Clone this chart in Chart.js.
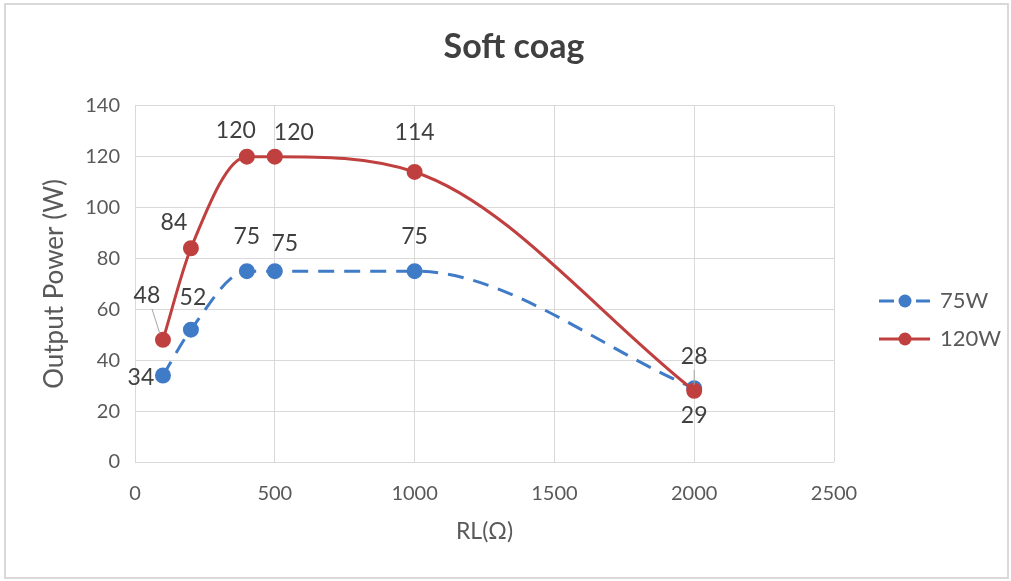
<!DOCTYPE html>
<html>
<head>
<meta charset="utf-8">
<script src="https://cdn.jsdelivr.net/npm/chart.js@4/dist/chart.umd.min.js"></script>
<style>
  html, body { margin: 0; padding: 0; background: #ffffff; }
  #wrap { width: 1011px; height: 581px; position: relative; }
</style>
</head>
<body>
<div id="wrap"><canvas id="chart" width="1011" height="581"></canvas></div>
<script>
// Load resistance (ohms) and measured output power (W)
const resistance = [100, 200, 400, 500, 1000, 2000];
const power75 = [34, 52, 75, 75, 75, 29];
const power120 = [48, 84, 120, 120, 114, 28];
const seriesNames = ['75W', '120W'];
const xTicks = [0, 500, 1000, 1500, 2000, 2500];
const yTicks = [0, 20, 40, 60, 80, 100, 120, 140];

const BLUE = '#3f7bc6';
const RED = '#c0403f';
const TEXT = '#595959';
const FONT = 'Lato, "Open Sans", sans-serif';

// Where each value label sits relative to its point (dx, dy, leader line)
const labelPlacement = [
  [[-22, 2], [2, -32], [0, -35], [10, -28], [0, -35], [0, 27]],
  [[-16, -44, true], [-17, -26], [-11, -26], [19, -24], [0, -39], [0, -34, true]]
];

const toPoints = (ys) => resistance.map((x, i) => ({ x: x, y: ys[i] }));

const valueLabels = {
  id: 'valueLabels',
  afterDatasetsDraw(chart) {
    const ctx = chart.ctx;
    ctx.save();
    ctx.font = '23px ' + FONT;
    ctx.fillStyle = '#404040';
    ctx.textAlign = 'center';
    ctx.textBaseline = 'middle';
    chart.data.datasets.forEach((ds, di) => {
      const meta = chart.getDatasetMeta(di);
      meta.data.forEach((pt, i) => {
        const place = labelPlacement[di][i];
        const lx = pt.x + place[0];
        const ly = pt.y + place[1];
        if (place[2]) {
          ctx.strokeStyle = '#a6a6a6';
          ctx.lineWidth = 1;
          ctx.beginPath();
          const sx = place[0] < 0 ? lx + 5 : lx;
          ctx.moveTo(sx, ly + 13);
          ctx.lineTo(pt.x - (place[0] < 0 ? 3 : 0), pt.y - 6);
          ctx.stroke();
        }
        ctx.fillText(String(ds.data[i].y), lx, ly);
      });
    });
    ctx.restore();
  }
};

const frameAndLegend = {
  id: 'frameAndLegend',
  beforeDraw(chart) {
    const ctx = chart.ctx;
    ctx.save();
    ctx.fillStyle = '#ffffff';
    ctx.fillRect(0, 0, chart.width, chart.height);
    ctx.strokeStyle = '#d9d9d9';
    ctx.lineWidth = 2;
    ctx.strokeRect(5, 4, chart.width - 8, chart.height - 7);
    ctx.restore();
  },
  afterDraw(chart) {
    const ctx = chart.ctx;
    ctx.save();
    const rows = [301, 339];
    chart.data.datasets.forEach((ds, di) => {
      const y = rows[di];
      ctx.strokeStyle = ds.borderColor;
      ctx.lineWidth = 3;
      ctx.setLineDash([]);
      ctx.beginPath();
      if (ds.borderDash && ds.borderDash.length) {
        ctx.moveTo(879, y); ctx.lineTo(894, y);
        ctx.moveTo(916, y); ctx.lineTo(930, y);
      } else {
        ctx.moveTo(879, y); ctx.lineTo(930, y);
      }
      ctx.stroke();
      ctx.fillStyle = ds.pointBackgroundColor;
      ctx.beginPath();
      ctx.arc(905, y, 6.5, 0, Math.PI * 2);
      ctx.fill();
      ctx.fillStyle = TEXT;
      ctx.font = '22px ' + FONT;
      ctx.textAlign = 'left';
      ctx.textBaseline = 'middle';
      ctx.fillText(ds.label, 940, y);
    });
    ctx.restore();
  }
};

new Chart(document.getElementById('chart'), {
  type: 'scatter',
  data: {
    datasets: [
      {
        label: seriesNames[0],
        data: toPoints(power75),
        showLine: true,
        order: 1,
        borderColor: BLUE,
        backgroundColor: BLUE,
        pointBackgroundColor: BLUE,
        pointBorderColor: BLUE,
        borderWidth: 3,
        borderDash: [16, 10],
        pointRadius: 6.5,
        pointHoverRadius: 6.5,
        cubicInterpolationMode: 'monotone'
      },
      {
        label: seriesNames[1],
        data: toPoints(power120),
        showLine: true,
        order: 0,
        borderColor: RED,
        backgroundColor: RED,
        pointBackgroundColor: RED,
        pointBorderColor: RED,
        borderWidth: 3,
        pointRadius: 6.5,
        pointHoverRadius: 6.5,
        cubicInterpolationMode: 'monotone'
      }
    ]
  },
  options: {
    responsive: false,
    animation: false,
    events: [],
    layout: { padding: { left: 17, right: 0, top: 0, bottom: 0 } },
    plugins: {
      legend: { display: false },
      tooltip: { enabled: false },
      title: {
        display: true,
        text: 'Soft coag',
        color: '#404040',
        font: { family: FONT, size: 34, weight: 'bold', lineHeight: 1.2 },
        padding: { top: 27, bottom: 38 }
      }
    },
    scales: {
      x: {
        type: 'linear',
        min: 0,
        max: 2500,
        afterBuildTicks(scale) { scale.ticks = xTicks.map(v => ({ value: v })); },
        afterFit(scale) { scale.height = 119; },
        grid: { color: '#d9d9d9', lineWidth: 1, drawTicks: false },
        border: { display: false },
        ticks: {
          color: TEXT,
          font: { family: FONT, size: 20 },
          padding: 20,
          maxRotation: 0,
          callback: (v) => String(v)
        },
        title: {
          display: true,
          text: 'RL(Ω)',
          color: TEXT,
          font: { family: FONT, size: 23 },
          padding: { top: 0, bottom: 36 }
        }
      },
      y: {
        type: 'linear',
        min: 0,
        max: 140,
        afterBuildTicks(scale) { scale.ticks = yTicks.map(v => ({ value: v })); },
        afterFit(scale) { scale.width = 118; },
        grid: { color: '#d9d9d9', lineWidth: 1, drawTicks: false },
        border: { display: false },
        ticks: { color: TEXT, font: { family: FONT, size: 20 }, padding: 15, callback: (v) => String(v) },
        title: {
          display: true,
          text: 'Output Power (W)',
          color: TEXT,
          font: { family: FONT, size: 26 },
          padding: { top: 22, bottom: 0 }
        }
      },
      // empty right-hand column that holds the legend
      side: {
        type: 'linear',
        position: 'right',
        display: true,
        grid: { display: false, drawTicks: false },
        border: { display: false },
        ticks: { display: false },
        afterFit(scale) { scale.width = 177; }
      }
    }
  },
  plugins: [frameAndLegend, valueLabels]
});
</script>
</body>
</html>
